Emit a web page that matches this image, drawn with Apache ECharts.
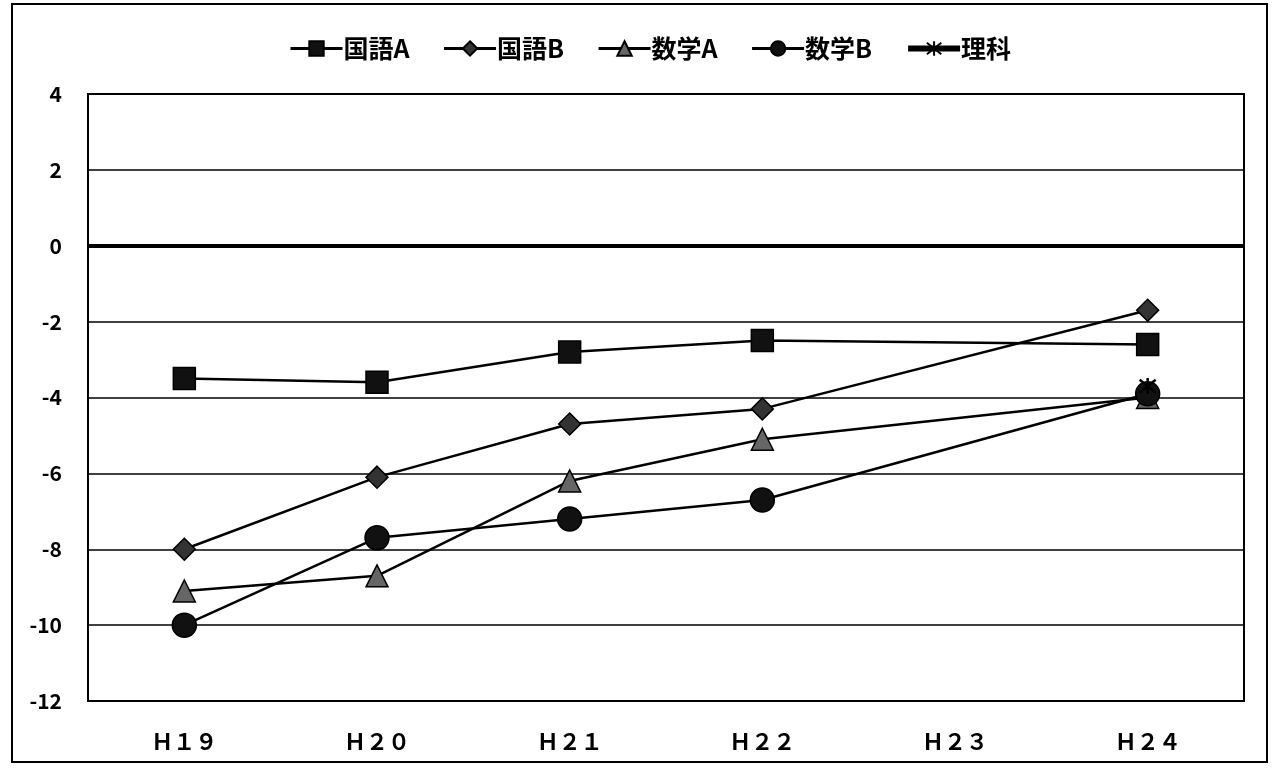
<!DOCTYPE html>
<html>
<head>
<meta charset="utf-8">
<script src="https://cdn.jsdelivr.net/npm/echarts@6/dist/echarts.min.js"></script>
<style>
  html, body { margin: 0; padding: 0; background: #fff; }
  #chart { width: 1274px; height: 773px; }
</style>
</head>
<body>
<div id="chart"></div>
<script>
// Survey years (full-width labels)
const categories = ['Ｈ１９', 'Ｈ２０', 'Ｈ２１', 'Ｈ２２', 'Ｈ２３', 'Ｈ２４'];

// Difference from the national average, per subject
const kokugoA = [-3.5, -3.6, -2.8, -2.5, null, -2.6];
const kokugoB = [-8.0, -6.1, -4.7, -4.3, null, -1.7];
const sugakuA = [-9.1, -8.7, -6.2, -5.1, null, -4.0];
const sugakuB = [-10.0, -7.7, -7.2, -6.7, null, -3.9];
const rika    = [null, null, null, null, null, -3.7];

const yTicks = { min: -12, max: 4, interval: 2 };

const FONT = '"Noto Sans CJK JP", "Liberation Sans", sans-serif';
const asterisk = 'path://M5,0L5,10M0.5,1L9.5,9M9.5,1L0.5,9';

const chart = echarts.init(document.getElementById('chart'), null, { renderer: 'canvas' });

function lineSeries(name, data, symbol, size, fill, extra) {
  return Object.assign({
    name: name,
    type: 'line',
    data: data,
    connectNulls: true,
    symbol: symbol,
    symbolSize: size,
    showAllSymbol: true,
    lineStyle: { color: '#000', width: 2.5 },
    itemStyle: { color: fill, borderColor: '#000', borderWidth: 1.5 },
    emphasis: { disabled: true },
    z: 3
  }, extra || {});
}

chart.setOption({
  animation: false,
  backgroundColor: '#fff',
  graphic: [{
    type: 'rect',
    shape: { x: 12, y: 4, width: 1255, height: 758 },
    style: { fill: 'none', stroke: '#000', lineWidth: 2 },
    silent: true
  }],
  legend: {
    left: 284,
    top: 31,
    itemWidth: 52,
    itemHeight: 18,
    itemGap: 33,
    textStyle: { fontFamily: FONT, fontSize: 25, fontWeight: 'bold', color: '#000', padding: [0, 0, 0, -4] },
    data: [
      { name: '国語A', lineStyle: { width: 3 } },
      { name: '国語B', lineStyle: { width: 3 } },
      { name: '数学A', lineStyle: { width: 3 } },
      { name: '数学B', lineStyle: { width: 3 } },
      { name: '理科', lineStyle: { width: 6 } }
    ]
  },
  grid: {
    left: 88, right: 30, top: 94, bottom: 72,
    show: true, borderColor: '#000', borderWidth: 2, backgroundColor: 'transparent'
  },
  xAxis: {
    type: 'category',
    data: categories,
    boundaryGap: true,
    axisLine: { show: false },
    axisTick: { show: false },
    axisLabel: {
      margin: 30,
      fontFamily: FONT, fontSize: 22, fontWeight: 'bold', color: '#000'
    }
  },
  yAxis: {
    type: 'value',
    min: yTicks.min, max: yTicks.max, interval: yTicks.interval,
    axisLine: { show: false },
    axisTick: { show: false },
    splitLine: { lineStyle: { color: '#000', width: 1.5 } },
    axisLabel: {
      margin: 26,
      fontFamily: FONT, fontSize: 21, fontWeight: 'bold', color: '#000'
    }
  },
  series: [
    lineSeries('国語A', kokugoA, 'rect', 22, '#111', {
      markLine: {
        silent: true,
        symbol: 'none',
        label: { show: false },
        lineStyle: { color: '#000', width: 4, type: 'solid' },
        data: [{ yAxis: 0 }]
      }
    }),
    lineSeries('国語B', kokugoB, 'diamond', 22, '#333'),
    lineSeries('数学A', sugakuA, 'triangle', 22, '#666'),
    lineSeries('数学B', sugakuB, 'circle', 24, '#111'),
    lineSeries('理科', rika, asterisk, 16, 'none', {
      lineStyle: { color: '#000', width: 5 },
      itemStyle: { color: '#000', borderColor: '#000', borderWidth: 2.5 },
      z: 4
    })
  ]
});
</script>
</body>
</html>
